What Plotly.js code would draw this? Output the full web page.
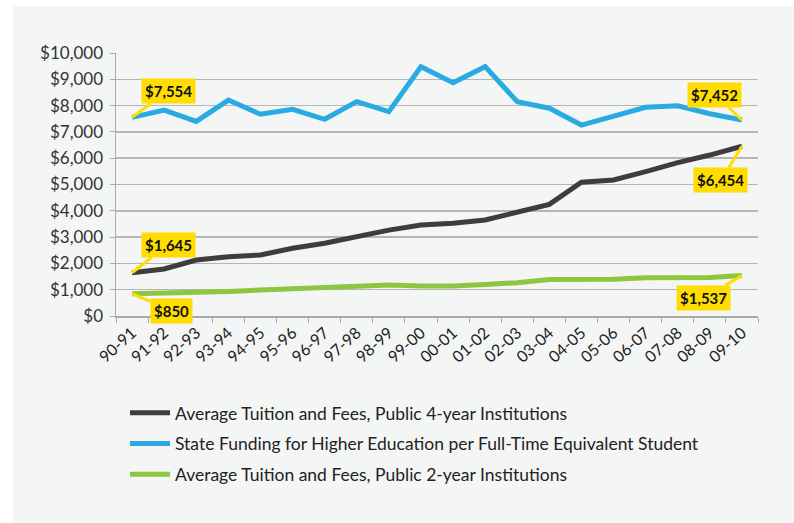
<!DOCTYPE html>
<html>
<head>
<meta charset="utf-8">
<script src="https://cdn.plot.ly/plotly-3.0.1.min.js"></script>
<style>
  html, body { margin: 0; padding: 0; background: #ffffff; }
  #chart { position: absolute; left: 13px; top: 6px; width: 781px; height: 517px; }
</style>
</head>
<body>
<div id="chart"></div>
<script>
const years = ["90-91","91-92","92-93","93-94","94-95","95-96","96-97","97-98","98-99","99-00",
               "00-01","01-02","02-03","03-04","04-05","05-06","06-07","07-08","08-09","09-10"];

const tuition4yr = [1645, 1790, 2130, 2255, 2320, 2575, 2765, 3015, 3265, 3460,
                    3525, 3650, 3965, 4245, 5085, 5170, 5490, 5830, 6120, 6454];

const stateFunding = [7554, 7830, 7400, 8210, 7670, 7860, 7480, 8150, 7770, 9480,
                      8870, 9480, 8150, 7900, 7260, 7580, 7935, 7990, 7690, 7452];

const tuition2yr = [850, 870, 880, 930, 990, 1040, 1045, 1110, 1175, 1140,
                    1140, 1200, 1265, 1390, 1395, 1395, 1455, 1460, 1460, 1537];

const seriesNames = [
  "Average Tuition and Fees, Public 4-year Institutions",
  "State Funding for Higher Education per Full-Time Equivalent Student",
  "Average Tuition and Fees, Public 2-year Institutions"
];

const yTickVals = [0, 1000, 2000, 3000, 4000, 5000, 6000, 7000, 8000, 9000, 10000];
const yTickText = ["$0","$1,000","$2,000","$3,000","$4,000","$5,000","$6,000","$7,000","$8,000","$9,000","$10,000"];

// callout labels: [series, index, text, ax, ay]
const callouts = [
  [stateFunding, 0, "$7,554", 36, -26],
  [stateFunding, 19, "$7,452", -27, -25],
  [tuition4yr, 19, "$6,454", -21, 34],
  [tuition4yr, 0, "$1,645", 36, -28],
  [tuition2yr, 0, "$850", 39, 17],
  [tuition2yr, 19, "$1,537", -38, 22]
];

const colors = ["#3f3c3d", "#29abe2", "#8dc63f"];
const seriesData = [tuition4yr, stateFunding, tuition2yr];

const traces = seriesData.map((ys, i) => ({
  type: "scatter",
  mode: "lines",
  x: years,
  y: ys,
  name: seriesNames[i],
  legendgroup: "g" + i,
  line: { color: colors[i], width: 5 },
  hoverinfo: "skip"
}));

const annotations = callouts.map(c => ({
  x: years[c[1]],
  y: c[0][c[1]],
  xref: "x", yref: "y",
  text: "<b>" + c[2] + "</b>",
  showarrow: true,
  arrowhead: 0,
  arrowwidth: 3,
  arrowcolor: "#ffdd00",
  ax: c[3], ay: c[4],
  bgcolor: "#ffdd00",
  borderpad: 3,
  font: { family: "Lato, sans-serif", size: 15, color: "#111111" }
}));

const layout = {
  width: 781, height: 517,
  paper_bgcolor: "#f4f5f5",
  plot_bgcolor: "#f4f5f5",
  margin: { l: 103, r: 36, t: 47, b: 207 },
  font: { family: "Lato, sans-serif", color: "#333333" },
  showlegend: true,
  legend: {
    x: 0.014, y: -0.30, xanchor: "left", yanchor: "top",
    bgcolor: "rgba(0,0,0,0)",
    font: { size: 17.5, color: "#222222" },
    traceorder: "grouped",
    tracegroupgap: 5,
    itemwidth: 40
  },
  xaxis: {
    type: "category",
    range: [-0.5, 19.5],
    tickangle: -42,
    tickson: "boundaries",
    ticks: "outside", ticklen: 5, tickcolor: "#aaaaaa",
    showline: true, linecolor: "#aaaaaa", linewidth: 1.5,
    showgrid: false,
    tickfont: { size: 16, color: "#222222" },
    fixedrange: true
  },
  yaxis: {
    range: [0, 10000],
    tickvals: yTickVals,
    ticktext: yTickText,
    ticks: "outside", ticklen: 5, tickcolor: "#aaaaaa",
    showline: true, linecolor: "#aaaaaa", linewidth: 1.5,
    showgrid: true, gridcolor: "#b5b5b5", gridwidth: 1.5,
    zeroline: false,
    tickfont: { size: 17, color: "#333333" },
    ticklabelstandoff: 3,
    fixedrange: true
  },
  annotations: annotations
};

Plotly.newPlot("chart", traces, layout, { displayModeBar: false, staticPlot: true });
</script>
</body>
</html>
